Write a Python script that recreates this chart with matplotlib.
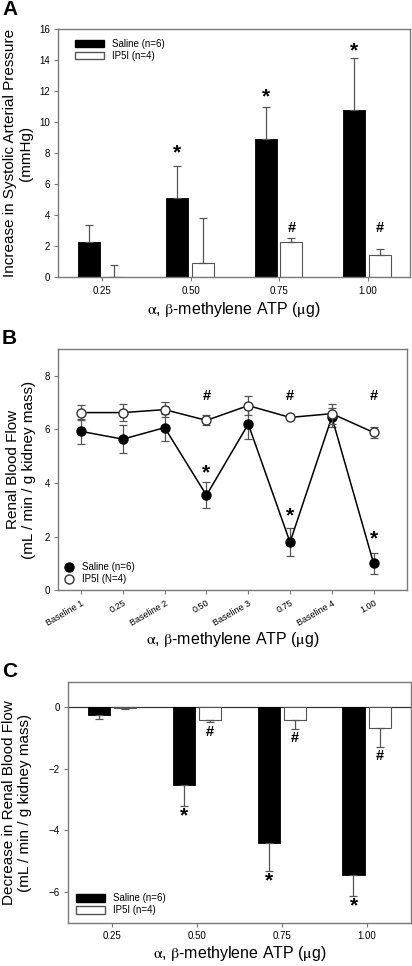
import numpy as np
import matplotlib
matplotlib.use("Agg")
import matplotlib.pyplot as plt
from matplotlib.patches import Patch
from matplotlib.lines import Line2D

plt.rcParams['font.family'] = ['Liberation Sans', 'DejaVu Sans']
plt.rcParams['mathtext.fontset'] = 'stix'

# ---- panel A data
doses = ["0.25", "0.50", "0.75", "1.00"]
sap_saline = [2.3, 5.1, 8.9, 10.75]
sap_saline_err = [1.05, 2.1, 2.05, 3.4]
sap_ip5i = [0.0, 0.95, 2.3, 1.45]
sap_ip5i_err = [0.8, 2.85, 0.25, 0.4]
sap_star = [None, 8.0, 11.6, 14.6]
sap_hash = [None, None, 3.2, 3.2]

# ---- panel B data
rbf_labels = ["Baseline 1", "0.25", "Baseline 2", "0.50", "Baseline 3", "0.75", "Baseline 4", "1.00"]
rbf_saline = [5.92, 5.63, 6.06, 3.54, 6.19, 1.79, 6.45, 1.0]
rbf_saline_err = [0.47, 0.53, 0.5, 0.48, 0.55, 0.52, 0.35, 0.4]
rbf_ip5i = [6.62, 6.62, 6.73, 6.33, 6.88, 6.44, 6.58, 5.88]
rbf_ip5i_err = [0.27, 0.31, 0.27, 0.19, 0.35, 0.05, 0.37, 0.22]
rbf_star = [None, None, None, 4.39, None, 2.77, None, 1.93]
rbf_hash = [None, None, None, 7.23, None, 7.23, None, 7.23]

# ---- panel C data
drbf_saline = [-0.27, -2.51, -4.4, -5.43]
drbf_saline_err = [0.12, 0.7, 0.92, 0.71]
drbf_ip5i = [-0.04, -0.42, -0.42, -0.68]
drbf_ip5i_err = [0.03, 0.06, 0.28, 0.6]
drbf_star = [None, -3.52, -5.62, -6.43]
drbf_hash = [None, -0.82, -1.0, -1.6]

xlab = r'$\mathrm{\alpha}$, $\mathrm{\beta}$-methylene ATP ($\mathrm{\mu}$g)'
spine_col = '#7a7a7a'
err_col = '#555555'

fig = plt.figure(figsize=(4.12, 9.66), dpi=100)


def style(ax):
    for s in ax.spines.values():
        s.set_color(spine_col)
        s.set_linewidth(1.0)
    ax.tick_params(direction='out', length=3, width=0.8, color=spine_col,
                   labelsize=7, pad=3)


# ================= A
ax = fig.add_axes([0.141, 0.713, 0.853, 0.257])
x = np.arange(len(doses))
off_s, off_i, w = -0.155, 0.135, 0.25
ax.bar(x + off_s, sap_saline, w, color='black', edgecolor='black', lw=0.6)
ax.bar(x + off_i, sap_ip5i, w, color='white', edgecolor='#555555', lw=0.8)
ax.errorbar(x + off_s, sap_saline, yerr=[np.zeros(4), sap_saline_err], fmt='none',
            ecolor=err_col, elinewidth=0.9, capsize=3, capthick=0.9)
ax.errorbar(x + off_i, sap_ip5i, yerr=[np.zeros(4), sap_ip5i_err], fmt='none',
            ecolor=err_col, elinewidth=0.9, capsize=3, capthick=0.9)
for i in range(4):
    if sap_star[i] is not None:
        ax.text(x[i] + off_s, sap_star[i], '*', ha='center', va='center', fontsize=15, fontweight='bold')
    if sap_hash[i] is not None:
        ax.text(x[i] + off_i, sap_hash[i], '#', ha='center', va='center', fontsize=10.5, fontweight='bold')
ax.set_xlim(-0.5, 3.47)
ax.set_ylim(0, 16)
ax.set_yticks(np.arange(0, 17, 2))
ax.set_xticks(x)
ax.set_xticklabels(doses)
style(ax)
ax.set_ylabel('Increase in Systolic Arterial Pressure\n(mmHg)', fontsize=11, labelpad=4)
ax.set_xlabel(xlab, fontsize=11.5, labelpad=3)
ax.legend(handles=[Patch(facecolor='black', edgecolor='black', label='Saline (n=6)'),
                   Patch(facecolor='white', edgecolor='#555555', label='IP5I (n=4)')],
          loc='upper left', frameon=False, fontsize=7, handlelength=3.0,
          handleheight=0.8, borderaxespad=0.6, labelspacing=0.2, bbox_to_anchor=(0.02, 1.0))
fig.text(0.005, 0.990, 'A', fontsize=15, fontweight='bold', va='center')

# ================= B
ax = fig.add_axes([0.141, 0.389, 0.847, 0.250])
xb = np.arange(len(rbf_labels))
ax.errorbar(xb, rbf_saline, yerr=rbf_saline_err, fmt='-o', color='black', ms=6.5,
            mfc='black', mec='black', lw=1.1, ecolor=err_col, elinewidth=0.9,
            capsize=3, capthick=0.9, zorder=2)
ax.errorbar(xb, rbf_ip5i, yerr=rbf_ip5i_err, fmt='-o', color='black', ms=6.5,
            mfc='white', mec='#333333', lw=1.1, ecolor=err_col, elinewidth=0.9,
            capsize=3, capthick=0.9, zorder=3)
for i in range(len(xb)):
    if rbf_star[i] is not None:
        ax.text(xb[i], rbf_star[i], '*', ha='center', va='center', fontsize=15, fontweight='bold')
    if rbf_hash[i] is not None:
        ax.text(xb[i], rbf_hash[i], '#', ha='center', va='center', fontsize=10.5, fontweight='bold')
ax.set_xlim(-0.55, 7.8)
ax.set_ylim(0, 9)
ax.set_yticks([0, 2, 4, 6, 8])
ax.set_xticks(xb)
ax.set_xticklabels(rbf_labels, rotation=30, ha='right', rotation_mode='anchor')
style(ax)
ax.tick_params(axis='x', labelsize=6.5)
ax.set_ylabel('Renal Blood Flow\n(mL / min / g kidney mass)', fontsize=11, labelpad=6)
ax.set_xlabel(xlab, fontsize=11.5, labelpad=2)
ax.legend(handles=[Line2D([], [], marker='o', ls='none', mfc='black', mec='black', ms=6.5, label='Saline (n=6)'),
                   Line2D([], [], marker='o', ls='none', mfc='white', mec='#333333', ms=6.5, label='IP5I (N=4)')],
          loc='lower left', frameon=False, fontsize=7, handlelength=1.0, handletextpad=0.9,
          borderaxespad=0.2, labelspacing=0.25)
fig.text(0.005, 0.650, 'B', fontsize=15, fontweight='bold', va='center')

# ================= C
ax = fig.add_axes([0.165, 0.0445, 0.832, 0.249])
off_s, off_i, w = -0.155, 0.155, 0.26
ax.axhline(0, color='#333333', lw=0.9, zorder=1)
ax.bar(x + off_s, drbf_saline, w, color='black', edgecolor='black', lw=0.6, zorder=2)
ax.bar(x + off_i, drbf_ip5i, w, color='white', edgecolor='#555555', lw=0.8, zorder=2)
ax.errorbar(x + off_s, drbf_saline, yerr=[drbf_saline_err, np.zeros(4)], fmt='none',
            ecolor=err_col, elinewidth=0.9, capsize=3, capthick=0.9, zorder=3)
ax.errorbar(x + off_i, drbf_ip5i, yerr=[drbf_ip5i_err, np.zeros(4)], fmt='none',
            ecolor=err_col, elinewidth=0.9, capsize=3, capthick=0.9, zorder=3)
for i in range(4):
    if drbf_star[i] is not None:
        ax.text(x[i] + off_s, drbf_star[i], '*', ha='center', va='center', fontsize=15, fontweight='bold')
    if drbf_hash[i] is not None:
        ax.text(x[i] + off_i, drbf_hash[i], '#', ha='center', va='center', fontsize=10.5, fontweight='bold')
ax.set_xlim(-0.52, 3.52)
ax.set_ylim(-7, 0.8)
ax.set_yticks([-6, -4, -2, 0])
ax.set_xticks(x)
ax.set_xticklabels(doses)
style(ax)
ax.set_ylabel('Decrease in Renal Blood Flow\n(mL / min / g kidney mass)', fontsize=11, labelpad=12)
ax.set_xlabel(xlab, fontsize=11.5, labelpad=2)
ax.legend(handles=[Patch(facecolor='black', edgecolor='black', label='Saline (n=6)'),
                   Patch(facecolor='white', edgecolor='#555555', label='IP5I (n=4)')],
          loc='lower left', frameon=False, fontsize=7, handlelength=3.0,
          handleheight=0.8, borderaxespad=0.4, labelspacing=0.2)
fig.text(0.005, 0.305, 'C', fontsize=15, fontweight='bold', va='center')

fig.savefig('out.png', dpi=100)
